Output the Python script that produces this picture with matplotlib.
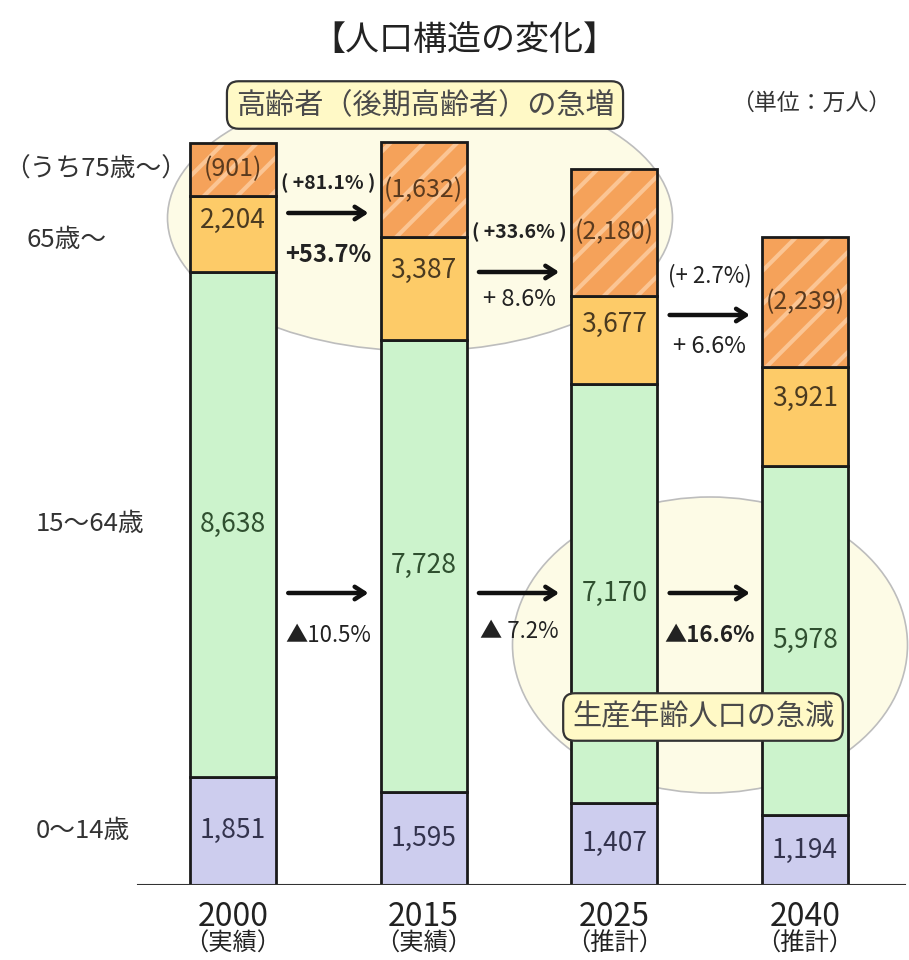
import matplotlib
matplotlib.use("Agg")
import matplotlib.pyplot as plt
import matplotlib.patches as mpatches
from matplotlib.transforms import blended_transform_factory
import numpy as np

plt.rcParams['font.family'] = ['Noto Sans CJK JP', 'DejaVu Sans']
plt.rcParams['hatch.linewidth'] = 3

# data (万人)
years = ['2000', '2015', '2025', '2040']
kinds = ['（実績）', '（実績）', '（推計）', '（推計）']
age0_14 = [1851, 1595, 1407, 1194]
age15_64 = [8638, 7728, 7170, 5978]
age65 = [2204, 3387, 3677, 3921]      # 65歳～ (total)
age75 = [901, 1632, 2180, 2239]       # うち75歳～

row_labels = ['（うち75歳～）', '65歳～', '15～64歳', '0～14歳']
old75_chg = ['( +81.1% )', '( +33.6% )', '(+ 2.7%)']
old65_chg = ['+53.7%', '+ 8.6%', '+ 6.6%']
work_chg = ['▲10.5%', '▲ 7.2%', '▲16.6%']
old75_bold = [True, True, False]
old65_bold = [True, False, False]
work_bold = [False, False, True]

W, H = 909, 960
fig = plt.figure(figsize=(W / 100, H / 100), dpi=100)
base_px = 885
scale = 0.05846  # px per 万人
ax = fig.add_axes([0, (H - base_px) / H, 1, base_px / H])
ax.set_ylim(0, base_px / scale)
ax.set_xlim(-233 / 190.7, (W - 233) / 190.7)
ax.axis('off')

def yd(py):
    # pixel row (from top) -> data value
    return (base_px - py) / scale

def fx(px):
    return px / W

def fy(py):
    return 1 - py / H

x = np.arange(len(years))
w = 0.45
a0 = np.array(age0_14)
a1 = np.array(age15_64)
a75 = np.array(age75)
a65_74 = np.array(age65) - a75
b1 = a0
b2 = a0 + a1
b3 = b2 + a65_74

edge = '#1a1a1a'
ax.bar(x, a0, w, color='#CDCDEE', edgecolor=edge, lw=2, zorder=3)
ax.bar(x, a1, w, bottom=b1, color='#CCF3CC', edgecolor=edge, lw=2, zorder=3)
ax.bar(x, a65_74, w, bottom=b2, color='#FDCB68', edgecolor=edge, lw=2, zorder=3)
ax.bar(x, a75, w, bottom=b3, color='#F5A25A', edgecolor='#FBC594', hatch='/', lw=0, zorder=3)
ax.bar(x, a75, w, bottom=b3, fill=False, edgecolor=edge, lw=2, zorder=4)

# background ellipses
fig_tr = fig.transFigure
ax.add_patch(mpatches.Ellipse((fx(420), fy(218)), 505 / W, 266 / H, transform=fig_tr,
                              fc='#FDFBE6', ec='#BDBDBD', lw=1.2, zorder=1))
ax.add_patch(mpatches.Ellipse((fx(710), fy(645)), 395 / W, 296 / H, transform=fig_tr,
                              fc='#FDFBE6', ec='#BDBDBD', lw=1.2, zorder=1))
ax.axhline(0, xmin=fx(138), xmax=fx(905), color='#333333', lw=1.5, zorder=5)

# values in bars
fs = 19
for i in range(len(years)):
    ax.text(x[i], a0[i] / 2, f'{a0[i]:,}', ha='center', va='center', fontsize=fs, color='#33334d', zorder=6)
    ax.text(x[i], b1[i] + a1[i] / 2, f'{a1[i]:,}', ha='center', va='center', fontsize=fs, color='#2f4f2f', zorder=6)
    ax.text(x[i], b2[i] + a65_74[i] * 0.68, f'{age65[i]:,}', ha='center', va='center', fontsize=fs, color='#4a3a20', zorder=6)
    ax.text(x[i], b3[i] + a75[i] / 2, f'({a75[i]:,})', ha='center', va='center', fontsize=fs - 1, color='#5a3a1e', zorder=6)

# arrows between bars
old_arrow_py = [213, 272, 315]
old75_py = [183, 232, 276]
old65_py = [255, 300, 347]
work_arrow_py = [593, 593, 593]
work_py = [635, 632, 635]
for i in range(3):
    xl = x[i] + w / 2 + 0.05
    xr = x[i + 1] - w / 2 - 0.05
    xm = (xl + xr) / 2
    for py in (old_arrow_py[i], work_arrow_py[i]):
        ax.annotate('', xy=(xr, yd(py)), xytext=(xl, yd(py)), zorder=7,
                    arrowprops=dict(arrowstyle='->,head_length=0.7,head_width=0.45', lw=3.2, color='#111111'))
    ax.text(xm, yd(old75_py[i]), old75_chg[i], ha='center', va='center',
            fontsize=14 if old75_bold[i] else 16,
            fontweight='bold' if old75_bold[i] else 'normal', color='#222222', zorder=7)
    ax.text(xm, yd(old65_py[i]), old65_chg[i], ha='center', va='center', fontsize=17,
            fontweight='bold' if old65_bold[i] else 'normal', color='#222222', zorder=7)
    ax.text(xm, yd(work_py[i]), work_chg[i], ha='center', va='center', fontsize=16,
            fontweight='bold' if work_bold[i] else 'normal', color='#222222', zorder=7)

# row labels on the left
rt = blended_transform_factory(fig_tr, ax.transData)
row_y = [b3[0] + a75[0] / 2, b2[0] + a65_74[0] / 2 - 100, b1[0] + a1[0] / 2, a0[0] / 2]
row_x = [4, 26, 36, 36]
for lab, yy, xx in zip(row_labels, row_y, row_x):
    fig.text(fx(xx), yy, lab, transform=rt, ha='left', va='center', fontsize=18.5, color='#333333')

# year labels
yt = blended_transform_factory(ax.transData, fig_tr)
for i in range(len(years)):
    ax.text(x[i], fy(917), years[i], transform=yt, ha='center', va='center', fontsize=23, color='#222222', clip_on=False)
    ax.text(x[i], fy(944), kinds[i], transform=yt, ha='center', va='center', fontsize=17.5, color='#222222', clip_on=False)

# title, unit and callout boxes
fig.text(fx(464), fy(40), '【人口構造の変化】', ha='center', va='center', fontsize=24.5, color='#222222')
fig.text(fx(811), fy(103), '（単位：万人）', ha='center', va='center', fontsize=16.5, color='#333333')
box = dict(boxstyle='round,pad=0.3,rounding_size=0.4', fc='#FFF9C6', ec='#333333', lw=1.6)
fig.text(fx(425), fy(105), '高齢者（後期高齢者）の急増', ha='center', va='center', fontsize=21,
         color='#4a4a4a', bbox=box, zorder=10)
fig.text(fx(703), fy(717), '生産年齢人口の急減', ha='center', va='center', fontsize=21,
         color='#4a4a4a', bbox=box, zorder=10)

fig.savefig('out.png', dpi=100)
